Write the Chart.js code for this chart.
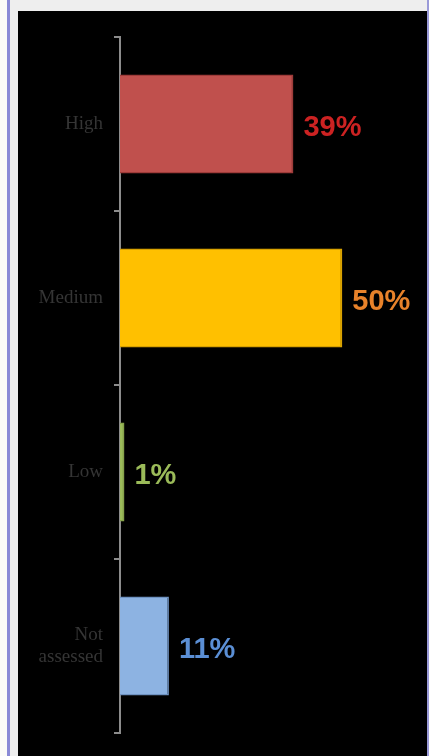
<!DOCTYPE html>
<html>
<head>
<meta charset="utf-8">
<script src="https://cdn.jsdelivr.net/npm/chart.js@4"></script>
<style>
  html, body { margin: 0; padding: 0; }
  body { width: 429px; height: 756px; background: #fbfbf8; position: relative; overflow: hidden; }
  #frame { position: absolute; left: 7px; top: 0; width: 422px; height: 756px; background: #eeeeee; }
  #lineL { position: absolute; left: 7px; top: 0; width: 3px; height: 756px; background: #8a8ad6; }
  #lineR { position: absolute; left: 427px; top: 0; width: 2px; height: 756px; background: #9a9ad8; }
  #wrap { position: absolute; left: 18px; top: 11px; width: 409px; height: 745px; background: #000; }
</style>
</head>
<body>
<div id="frame"></div>
<div id="lineL"></div>
<div id="lineR"></div>
<div id="wrap"><canvas id="riskChart"></canvas></div>
<script>
// values
const categories = ['High', 'Medium', 'Low', ['Not', 'assessed']];
const shares = [39, 50, 1, 11];
const valueLabels = ['39%', '50%', '1%', '11%'];

const fillColors = ['#c0504d', '#ffc000', '#9bbb59', '#8db3e2'];
const edgeColors = ['#9e3b39', '#d9a200', '#86a24a', '#6f93c2'];
const textColors = ['#cc2222', '#e8822a', '#9bbb59', '#5b8fd5'];

// write the percentage just past the end of each bar
const barValues = {
  id: 'barValues',
  afterDatasetsDraw(chart) {
    const ctx = chart.ctx;
    const meta = chart.getDatasetMeta(0);
    ctx.save();
    ctx.font = 'bold 29px "Liberation Sans", Arial, sans-serif';
    ctx.textBaseline = 'middle';
    ctx.textAlign = 'left';
    meta.data.forEach((bar, i) => {
      ctx.fillStyle = textColors[i];
      ctx.fillText(valueLabels[i], bar.x + 10, bar.y + 4);
    });
    ctx.restore();
  }
};

const ctx = document.getElementById('riskChart').getContext('2d');
new Chart(ctx, {
  type: 'bar',
  data: {
    labels: categories,
    datasets: [{
      data: shares,
      backgroundColor: fillColors,
      borderColor: edgeColors,
      borderWidth: 1.5,
      borderSkipped: 'left',
      barPercentage: 0.57,
      categoryPercentage: 1
    }]
  },
  options: {
    indexAxis: 'y',
    responsive: true,
    maintainAspectRatio: false,
    animation: false,
    layout: { padding: { top: 26, bottom: 23, right: 18, left: 0 } },
    plugins: {
      legend: { display: false },
      tooltip: { enabled: false }
    },
    scales: {
      x: {
        display: false,
        min: 0,
        max: 65
      },
      y: {
        afterFit(scale) {
          scale.width = 102;
          scale.paddingTop = 0;
          scale.paddingBottom = 0;
        },
        border: { color: '#8c8c8c', width: 2 },
        grid: {
          offset: true,
          drawOnChartArea: false,
          tickLength: 6,
          color: '#8c8c8c',
          lineWidth: 2
        },
        ticks: {
          padding: 11,
          color: '#353535',
          font: { family: '"Liberation Serif", "Times New Roman", serif', size: 19 }
        }
      }
    }
  },
  plugins: [barValues]
});
</script>
</body>
</html>
